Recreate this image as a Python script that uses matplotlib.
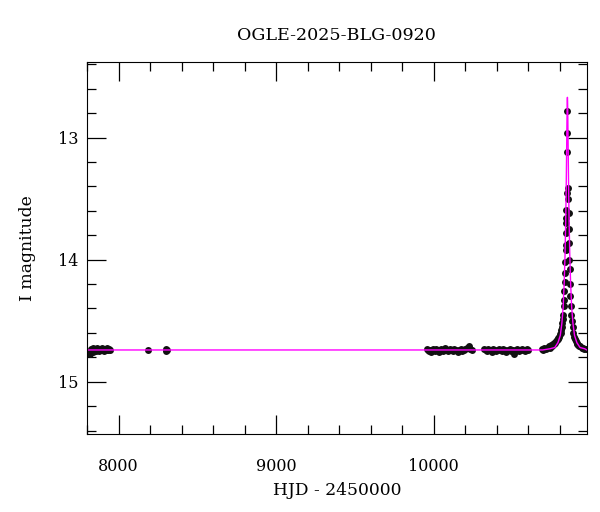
import matplotlib
matplotlib.use('Agg')
import matplotlib.pyplot as plt
from matplotlib.ticker import MultipleLocator

plt.rcParams['font.family'] = 'DejaVu Serif'

# OGLE photometry (HJD - 2450000, I mag)
t_s1 = [7815, 7820, 7824, 7828, 7832, 7836, 7840, 7845, 7850, 7855, 7860, 7866, 7872,
        7878, 7884, 7890, 7896, 7902, 7908, 7914, 7920, 7926, 7932, 7938, 7944]
m_s1 = [14.76, 14.77, 14.75, 14.73, 14.74, 14.76, 14.72, 14.74, 14.73, 14.75, 14.74, 14.72, 14.73,
        14.75, 14.74, 14.73, 14.72, 14.74, 14.75, 14.73, 14.74, 14.72, 14.74, 14.73, 14.74]

t_s2 = [8190, 8300, 8303, 8306]
m_s2 = [14.74, 14.73, 14.75, 14.74]

t_s3 = [9955, 9962, 9970, 9978, 9985, 9992, 10000, 10008, 10016, 10024, 10032, 10040, 10048,
        10056, 10064, 10072, 10080, 10090, 10100, 10110, 10120, 10130, 10140, 10150, 10160,
        10170, 10180, 10190, 10200, 10210, 10220, 10230, 10240]
m_s3 = [14.73, 14.74, 14.75, 14.74, 14.76, 14.73, 14.74, 14.75, 14.73, 14.74, 14.76, 14.74, 14.73,
        14.75, 14.74, 14.72, 14.74, 14.75, 14.73, 14.74, 14.75, 14.73, 14.74, 14.76, 14.74,
        14.73, 14.75, 14.74, 14.73, 14.72, 14.71, 14.73, 14.74]

t_s4 = [10320, 10328, 10336, 10344, 10352, 10360, 10368, 10376, 10384, 10392, 10400, 10410,
        10420, 10430, 10440, 10450, 10460, 10470, 10480, 10490, 10500, 10510, 10520, 10530,
        10540, 10550, 10560, 10570, 10580, 10590, 10600]
m_s4 = [14.73, 14.74, 14.75, 14.73, 14.74, 14.74, 14.76, 14.73, 14.74, 14.75, 14.74, 14.73,
        14.74, 14.75, 14.73, 14.74, 14.76, 14.74, 14.73, 14.75, 14.74, 14.77, 14.74, 14.73,
        14.75, 14.74, 14.73, 14.74, 14.75, 14.73, 14.74]

t_s5 = [10686, 10692, 10700, 10710, 10720, 10728, 10735, 10742, 10748, 10755, 10760, 10765,
        10770, 10775, 10780, 10785, 10790, 10795, 10800, 10804, 10808, 10812, 10815, 10818,
        10821, 10824, 10826, 10828, 10830, 10832, 10834, 10836, 10837, 10838, 10839, 10840,
        10841, 10842, 10844, 10845, 10846,
        10852, 10853, 10854, 10856, 10857, 10859, 10861, 10863, 10866, 10869, 10872, 10876,
        10880, 10885, 10890, 10895, 10900, 10905, 10910, 10916, 10922, 10930, 10938, 10946,
        10955, 10962]
m_s5 = [14.73, 14.74, 14.72, 14.73, 14.72, 14.71, 14.72, 14.70, 14.71, 14.69, 14.69, 14.68,
        14.68, 14.67, 14.66, 14.65, 14.64, 14.63, 14.61, 14.60, 14.58, 14.55, 14.52, 14.49,
        14.45, 14.38, 14.33, 14.26, 14.18, 14.11, 14.02, 13.92, 13.88, 13.78, 13.70, 13.66,
        13.59, 13.45, 13.12, 12.96, 12.78,
        13.41, 13.50, 13.62, 13.75, 13.86, 14.00, 14.08, 14.20, 14.30, 14.38, 14.45, 14.50,
        14.55, 14.60, 14.63, 14.65, 14.67, 14.68, 14.69, 14.70, 14.71, 14.71, 14.72, 14.72,
        14.73, 14.73]

# PSPL model curve
t_mod = [7800, 10690, 10737, 10767, 10787, 10802, 10812, 10820, 10827, 10832, 10836, 10839,
         10841, 10842, 10843, 10844, 10845, 10846, 10847, 10848, 10849, 10850, 10851, 10852,
         10853, 10855, 10858, 10862, 10867, 10874, 10882, 10892, 10907, 10927, 10957, 10970]
m_mod = [14.74, 14.74, 14.73, 14.72, 14.68, 14.62, 14.52, 14.39, 14.18, 13.96, 13.70, 13.44,
         13.23, 13.12, 13.00, 12.88, 12.77, 12.70, 12.67, 12.70, 12.77, 12.88, 13.00, 13.12,
         13.23, 13.44, 13.70, 13.96, 14.18, 14.39, 14.52, 14.62, 14.68, 14.72, 14.73, 14.74]

fig = plt.figure(figsize=(6.0, 5.12), dpi=100)
ax = fig.add_axes([0.145, 0.152, 0.833, 0.727])

for t, m in [(t_s1, m_s1), (t_s2, m_s2), (t_s3, m_s3), (t_s4, m_s4), (t_s5, m_s5)]:
    ax.plot(t, m, 'o', color='#111111', ms=5, mew=0)
ax.plot(t_mod, m_mod, '-', color='#ff00ff', lw=1.0)

ax.set_xlim(7800, 10970)
ax.set_ylim(15.43, 12.38)
ax.xaxis.set_major_locator(MultipleLocator(1000))
ax.xaxis.set_minor_locator(MultipleLocator(200))
ax.yaxis.set_major_locator(MultipleLocator(1))
ax.yaxis.set_minor_locator(MultipleLocator(0.2))
ax.tick_params(which='both', direction='in', top=True, right=True, labelsize=11.5)
ax.tick_params(which='major', length=13.5, width=0.9)
ax.tick_params(which='minor', length=6.5, width=0.9)
ax.tick_params(axis='x', pad=17)
ax.tick_params(axis='y', pad=6)

fig.text(0.145 + 0.833 / 2, 1 - 35 / 512, "OGLE-2025-BLG-0920", fontsize=12.6,
         ha='center', va='center')
ax.set_xlabel("HJD - 2450000", fontsize=12.3, labelpad=5)
ax.set_ylabel("I magnitude", fontsize=12.4, labelpad=16)

plt.savefig('out.png', dpi=100)
